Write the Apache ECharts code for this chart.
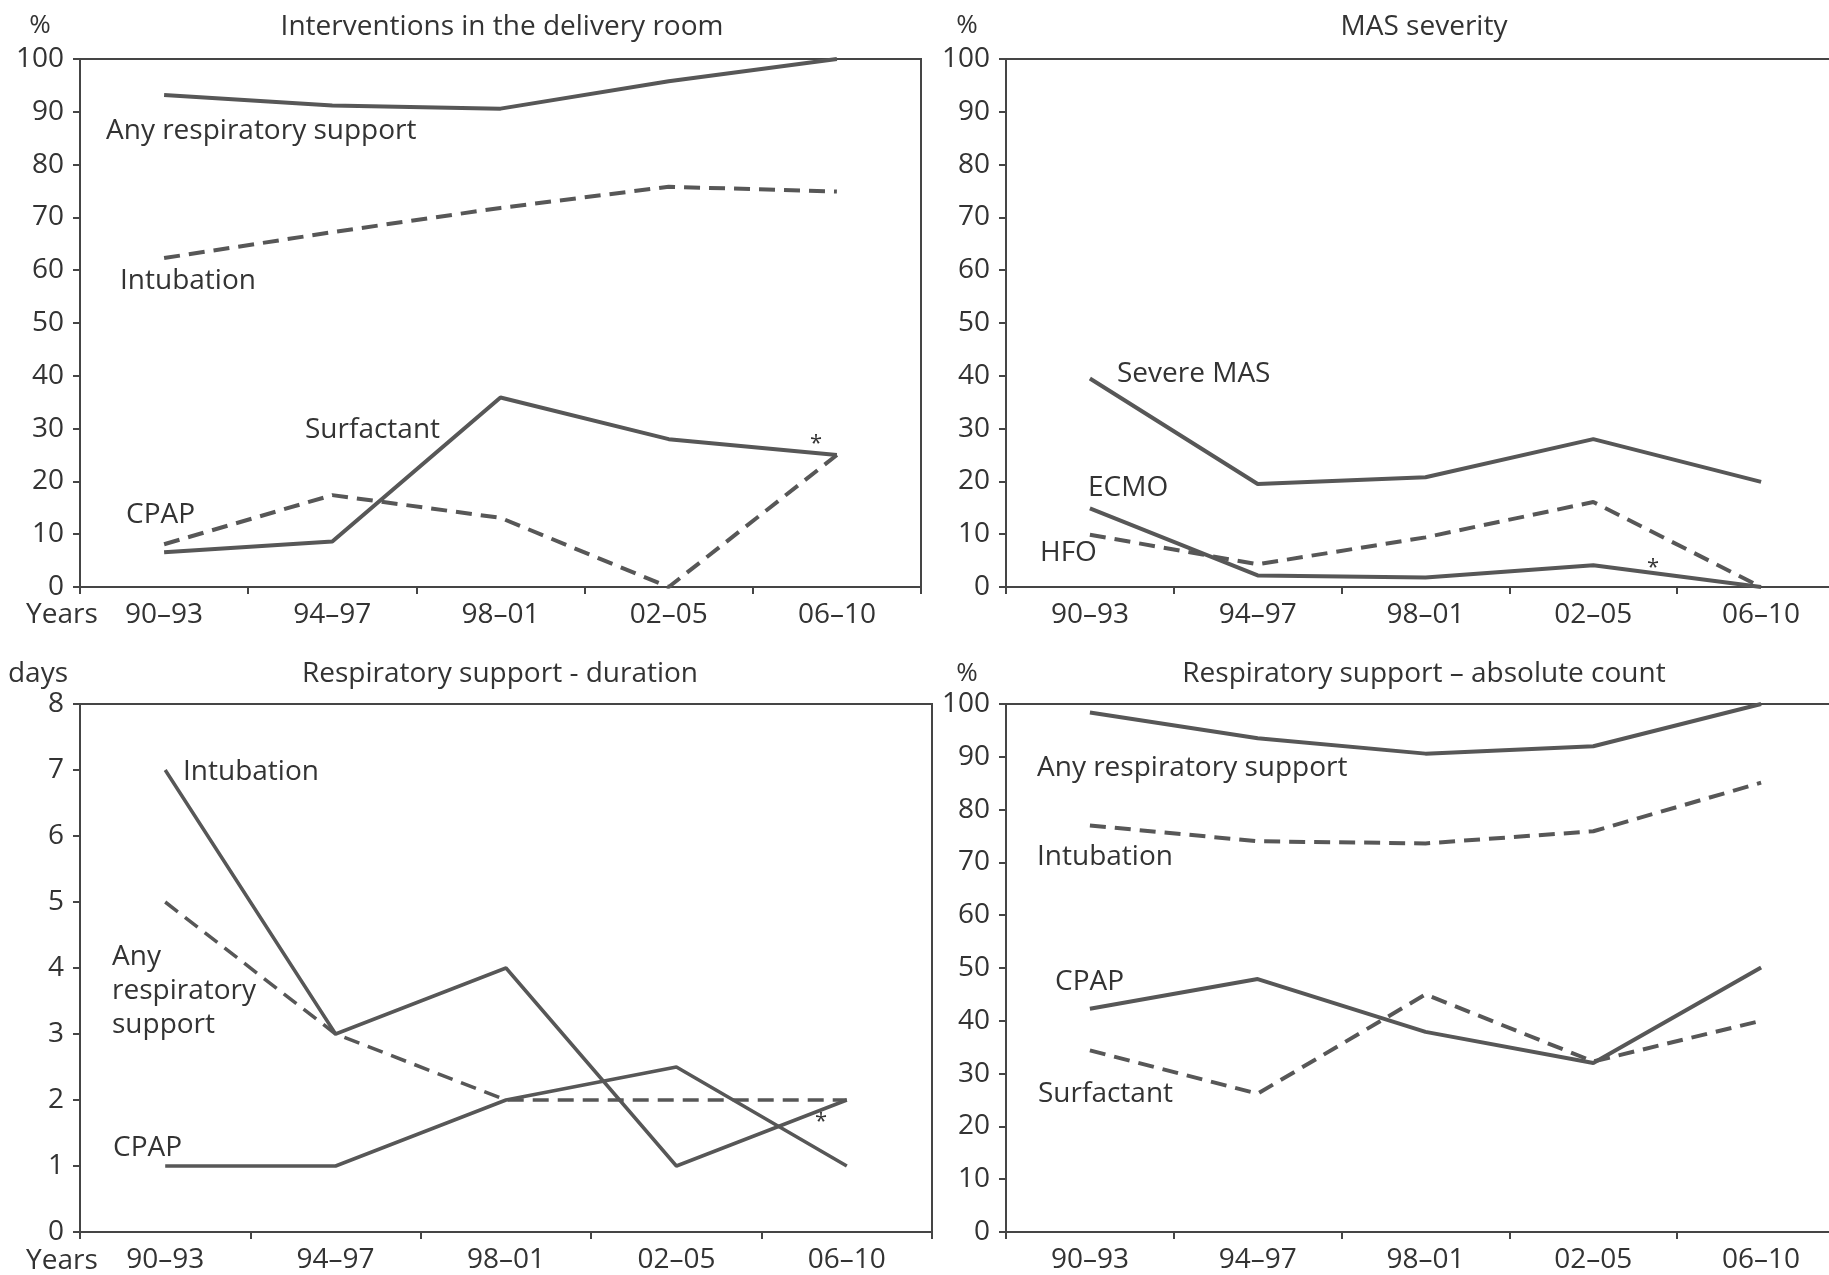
<!DOCTYPE html>
<html>
<head>
<meta charset="utf-8">
<script src="https://cdn.jsdelivr.net/npm/echarts@6/dist/echarts.min.js"></script>
<style>
  html, body { margin: 0; padding: 0; background: #fff; }
  #chart { width: 1829px; height: 1275px; }
</style>
</head>
<body>
<div id="chart"></div>
<script>
// categories
var years = ['90–93', '94–97', '98–01', '02–05', '06–10'];

// interventions in the delivery room (%)
var drAnyResp = [93.2, 91.2, 90.6, 95.8, 100];
var drIntubation = [62.3, 67.2, 71.8, 75.8, 74.9];
var drSurfactant = [6.6, 8.6, 35.9, 28.0, 25.0];
var drCpap = [8.1, 17.4, 13.1, 0, 25.0];

// MAS severity (%)
var masSevere = [39.5, 19.5, 20.8, 28.0, 19.9];
var masEcmo = [14.9, 2.2, 1.8, 4.1, 0];
var masHfo = [9.9, 4.3, 9.4, 16.1, 0];

// respiratory support duration (days)
var durIntubation = [7, 3, 4, 1, 2];
var durAnyResp = [5, 3, 2, 2, 2];
var durCpap = [1, 1, 2, 2.5, 1];

// respiratory support absolute count (%)
var absAnyResp = [98.4, 93.5, 90.6, 92.0, 100];
var absIntubation = [77.0, 74.0, 73.6, 75.9, 85.1];
var absCpap = [42.3, 47.9, 37.9, 32.0, 50.1];
var absSurfactant = [34.4, 26.2, 45.0, 32.3, 40.0];

var FONT = '"Open Sans", "Noto Sans", sans-serif';
var TXT = '#333333';
var AX = '#454545';
var LINE = '#575757';

function grid(left, top, right) {
  return {
    left: left, top: top, right: right, height: 528,
    outerBoundsMode: 'none', containLabel: false,
    show: true, borderColor: AX, borderWidth: 2, backgroundColor: 'transparent'
  };
}

function xAx(i) {
  return {
    type: 'category', gridIndex: i, data: years, boundaryGap: true,
    axisLine: { lineStyle: { color: AX, width: 2 } },
    axisTick: { show: true, length: 7, lineStyle: { color: AX, width: 2 } },
    axisLabel: { color: TXT, fontSize: 28, fontFamily: FONT, margin: 14 },
    splitLine: { show: false }
  };
}

function yAx(i, max, step) {
  return {
    type: 'value', gridIndex: i, min: 0, max: max, interval: step,
    axisLine: { show: true, lineStyle: { color: AX, width: 2 } },
    axisTick: { show: true, length: 7, lineStyle: { color: AX, width: 2 } },
    axisLabel: { color: TXT, fontSize: 28, fontFamily: FONT, margin: 16 },
    splitLine: { show: false }
  };
}

function line(i, data, dashed, w) {
  return {
    type: 'line', xAxisIndex: i, yAxisIndex: i, data: data,
    showSymbol: false, silent: true, animation: false,
    lineStyle: { color: LINE, width: w || 4, type: dashed ? [16, 9] : 'solid' }
  };
}

function txt(s, x, y, align, size) {
  return {
    type: 'text', x: x, y: y, silent: true,
    style: { text: s, fill: TXT, font: (size || 28) + 'px ' + FONT, textAlign: align || 'left', textVerticalAlign: 'middle' }
  };
}

var chart = echarts.init(document.getElementById('chart'));
chart.setOption({
  animation: false,
  grid: [grid(80, 59, 908), grid(1006, 59, -16), grid(80, 704, 897), grid(1006, 704, -16)],
  xAxis: [xAx(0), xAx(1), xAx(2), xAx(3)],
  yAxis: [yAx(0, 100, 10), yAx(1, 100, 10), yAx(2, 8, 1), yAx(3, 100, 10)],
  series: [
    line(0, drAnyResp, false),
    line(0, drIntubation, true),
    line(0, drSurfactant, false),
    line(0, drCpap, true),
    line(1, masSevere, false),
    line(1, masEcmo, false),
    line(1, masHfo, true),
    line(2, durIntubation, false, 3.5),
    line(2, durAnyResp, true, 3.5),
    line(2, durCpap, false, 3.5),
    line(3, absAnyResp, false),
    line(3, absIntubation, true),
    line(3, absCpap, false),
    line(3, absSurfactant, true)
  ],
  graphic: [
    txt('Interventions in the delivery room', 502, 27, 'center'),
    txt('MAS severity', 1424, 27, 'center'),
    txt('Respiratory support - duration', 500, 674, 'center'),
    txt('Respiratory support – absolute count', 1424, 674, 'center'),
    txt('%', 40, 26, 'center', 26),
    txt('%', 967, 26, 'center', 26),
    txt('days', 38, 674, 'center'),
    txt('%', 967, 674, 'center', 26),
    txt('Years', 26, 615),
    txt('Years', 26, 1261),

    txt('Any respiratory support', 106, 131),
    txt('Intubation', 120, 281),
    txt('Surfactant', 305, 430),
    txt('CPAP', 126, 515),
    txt('*', 816, 444, 'center', 22),

    txt('Severe MAS', 1117, 374),
    txt('ECMO', 1088, 488),
    txt('HFO', 1040, 553),
    txt('*', 1653, 568, 'center', 22),

    txt('Intubation', 183, 772),
    txt('Any', 112, 957),
    txt('respiratory', 112, 991),
    txt('support', 112, 1025),
    txt('CPAP', 113, 1148),
    txt('*', 821, 1122, 'center', 22),

    txt('Any respiratory support', 1037, 768),
    txt('Intubation', 1037, 857),
    txt('CPAP', 1055, 982),
    txt('Surfactant', 1038, 1094)
  ]
});
</script>
</body>
</html>
